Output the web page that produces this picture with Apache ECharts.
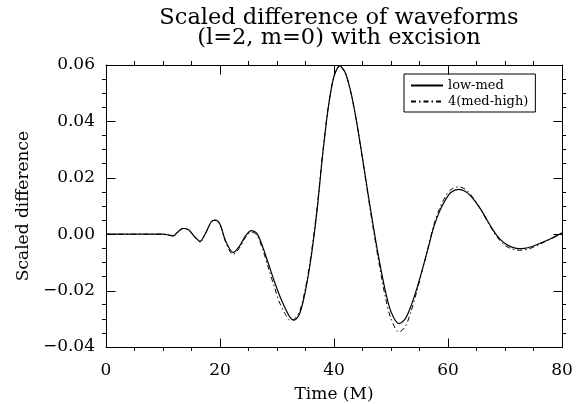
<!DOCTYPE html>
<html>
<head>
<meta charset="utf-8">
<script src="https://cdn.jsdelivr.net/npm/echarts@6/dist/echarts.min.js"></script>
<style>html,body{margin:0;padding:0;background:#fff;}#c{width:584px;height:404px;}</style>
</head>
<body>
<div id="c"></div>
<script>
const titleLines = ['Scaled difference of waveforms', '(l=2, m=0) with excision'];
const xName = 'Time (M)';
const yName = 'Scaled difference';
const seriesNames = ['low-med', '4(med-high)'];

const time = [0,2,4,6,8,10,11,11.8,12.5,13.5,14.5,15.5,16.5,17.5,18.5,19.2,20,21,22.3,23.5,24.5,25.5,26.5,27.5,28.5,29.5,30.5,31.5,32.3,33,34,35,36,37,38,39,40,41,42,43,44,45,46,47,48,49,50,51.4,52.5,53.5,54.5,55.5,56.5,57.5,58.5,59.5,60.5,61.9,63,64,65,66,67,68,69,70,71,72,72.9,74,75,76,77,78,79,80];
const lowMed = [0,0,0,0,0,0,-0.0003,-0.0006,0.0006,0.0021,0.0016,-0.0008,-0.0025,0.0005,0.0045,0.0050,0.0035,-0.0025,-0.0065,-0.0040,-0.0005,0.0013,0.0002,-0.0045,-0.0105,-0.0165,-0.0220,-0.0265,-0.0295,-0.0305,-0.0280,-0.0200,-0.0080,0.0080,0.0280,0.0450,0.0560,0.0597,0.0572,0.0500,0.0395,0.0270,0.0140,0.0015,-0.0100,-0.0200,-0.0275,-0.0317,-0.0300,-0.0255,-0.0195,-0.0125,-0.0050,0.0025,0.0080,0.0120,0.0148,0.0159,0.0152,0.0135,0.0110,0.0080,0.0045,0.0012,-0.0015,-0.0033,-0.0044,-0.0050,-0.0051,-0.0048,-0.0042,-0.0034,-0.0025,-0.0016,-0.0006,0.0005];
const medHigh = [0,0,0,0,0,0,-0.0003,-0.0006,0.0006,0.0020,0.0015,-0.0009,-0.0027,0.0004,0.0044,0.0050,0.0034,-0.0028,-0.0072,-0.0046,-0.0010,0.0008,-0.0004,-0.0055,-0.0120,-0.0185,-0.0245,-0.0285,-0.0305,-0.0302,-0.0272,-0.0190,-0.0070,0.0088,0.0285,0.0452,0.0560,0.0595,0.0570,0.0498,0.0392,0.0265,0.0133,0.0005,-0.0115,-0.0222,-0.0300,-0.0347,-0.0328,-0.0275,-0.0205,-0.0128,-0.0048,0.0032,0.0090,0.0132,0.0158,0.0168,0.0160,0.0140,0.0112,0.0078,0.0042,0.0008,-0.0020,-0.0040,-0.0051,-0.0056,-0.0057,-0.0053,-0.0046,-0.0037,-0.0027,-0.0017,-0.0007,0.0005];

const xTicks = {min: 0, max: 80, interval: 20};
const yTicks = {min: -0.04, max: 0.06, interval: 0.02};

const FONT = 'DejaVu Serif';
const chart = echarts.init(document.getElementById('c'));

function axisCommon() {
  return {
    axisLine: {show: true, onZero: false, lineStyle: {color: '#000'}},
    axisTick: {show: false},
    minorTick: {show: true, splitNumber: 4, length: 4, lineStyle: {color: '#000'}},
    splitLine: {show: false}
  };
}

const option = {
  backgroundColor: '#fff',
  animation: false,
  title: {
    text: titleLines.join('\n'),
    left: 334, top: 3, textAlign: 'center',
    textStyle: {fontFamily: FONT, fontSize: 22.5, fontWeight: 'normal', color: '#000', lineHeight: 20}
  },
  legend: {
    orient: 'vertical', left: 404, top: 74,
    data: seriesNames,
    borderColor: '#000', borderWidth: 1, padding: [5, 7, 4, 6],
    itemWidth: 32, itemHeight: 10, itemGap: 3,
    itemStyle: {color: 'rgba(0,0,0,0)', borderColor: 'rgba(0,0,0,0)', borderWidth: 0},
    textStyle: {fontFamily: FONT, fontSize: 13, color: '#000'}
  },
  grid: {left: 106, right: 22, top: 65, bottom: 57, outerBoundsMode: 'none', containLabel: false},
  xAxis: [
    Object.assign(axisCommon(), {type: 'value', position: 'bottom', min: xTicks.min, max: xTicks.max, interval: xTicks.interval,
      name: xName, nameLocation: 'middle', nameGap: 39, nameTextStyle: {fontFamily: FONT, fontSize: 17, color: '#000'},
      axisLabel: {show: true, fontFamily: FONT, fontSize: 17, color: '#000', margin: 15}}),
    Object.assign(axisCommon(), {type: 'value', position: 'top', min: xTicks.min, max: xTicks.max, interval: xTicks.interval,
      axisLabel: {show: false}})
  ],
  yAxis: [
    Object.assign(axisCommon(), {type: 'value', position: 'left', min: yTicks.min, max: yTicks.max, interval: yTicks.interval,
      name: yName, nameLocation: 'middle', nameGap: 67, nameTextStyle: {fontFamily: FONT, fontSize: 17, color: '#000'},
      axisLabel: {show: true, fontFamily: FONT, fontSize: 17, color: '#000', margin: 11,
        formatter: v => (v < 0 ? '\u2212' : '') + Math.abs(v).toFixed(2)}}),
    Object.assign(axisCommon(), {type: 'value', position: 'right', min: yTicks.min, max: yTicks.max, interval: yTicks.interval,
      axisLabel: {show: false}})
  ],
  series: [
    {name: seriesNames[0], type: 'line', smooth: 0.3, symbol: 'none', xAxisIndex: 0, yAxisIndex: 0,
     data: time.map((t, i) => [t, lowMed[i]]),
     lineStyle: {color: '#000', width: 1.2, type: 'solid'}, itemStyle: {color: '#000'}},
    {name: seriesNames[1], type: 'line', smooth: 0.3, symbol: 'none', xAxisIndex: 0, yAxisIndex: 0,
     data: time.map((t, i) => [t, medHigh[i]]),
     lineStyle: {color: '#000', width: 1, type: [5, 3, 1.5, 3]}, itemStyle: {color: '#000'}}
  ]
};
chart.setOption(option);

// Major ticks on all four sides, positioned through the chart's own scales.
const MAJOR = 9;
const px = (x, y) => chart.convertToPixel({seriesIndex: 0}, [x, y]);
const lo = px(xTicks.min, yTicks.min);
const hi = px(xTicks.max, yTicks.max);
const crisp = v => Math.round(v) + 0.5;
const L = crisp(lo[0]), R = crisp(hi[0]), B = crisp(lo[1]), T = crisp(hi[1]);
const tickEls = [];
for (let k = 0; xTicks.min + k * xTicks.interval <= xTicks.max + 1e-9; k++) {
  const x = crisp(px(xTicks.min + k * xTicks.interval, yTicks.min)[0]);
  tickEls.push({type: 'line', silent: true, z: 100, shape: {x1: x, y1: B, x2: x, y2: B - MAJOR}, style: {stroke: '#000', lineWidth: 1}});
  tickEls.push({type: 'line', silent: true, z: 100, shape: {x1: x, y1: T, x2: x, y2: T + MAJOR}, style: {stroke: '#000', lineWidth: 1}});
}
for (let k = 0; yTicks.min + k * yTicks.interval <= yTicks.max + 1e-9; k++) {
  const y = crisp(px(xTicks.min, yTicks.min + k * yTicks.interval)[1]);
  tickEls.push({type: 'line', silent: true, z: 100, shape: {x1: L, y1: y, x2: L + MAJOR, y2: y}, style: {stroke: '#000', lineWidth: 1}});
  tickEls.push({type: 'line', silent: true, z: 100, shape: {x1: R, y1: y, x2: R - MAJOR, y2: y}, style: {stroke: '#000', lineWidth: 1}});
}
chart.setOption({graphic: tickEls});
</script>
</body>
</html>
